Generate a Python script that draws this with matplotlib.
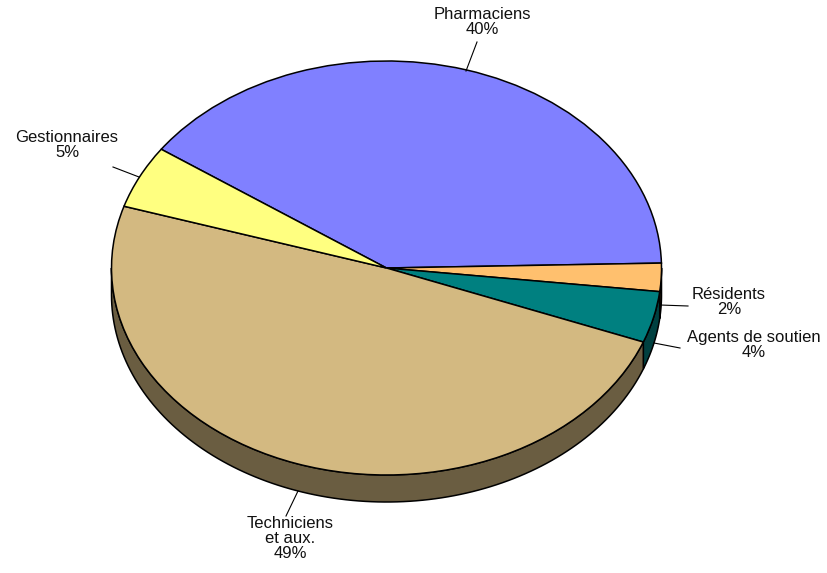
import numpy as np
import matplotlib
matplotlib.use("Agg")
import matplotlib.pyplot as plt

plt.rcParams["font.family"] = ["Liberation Sans", "DejaVu Sans"]

W, H = 828, 573
CX, CY, RX, RY = 386.5, 268, 275, 207
DEPTH = 27

categories = ["Pharmaciens", "Résidents", "Agents de soutien", "Techniciens\net aux.", "Gestionnaires"]
shares = [39.9, 2.2, 4.0, 49.0, 4.9]
pct_labels = ["40%", "2%", "4%", "49%", "5%"]
colors = ["#8080FF", "#FFC06E", "#008080", "#D3B981", "#FFFF80"]
side_colors = ["#404080", "#806037", "#004040", "#6A5D41", "#808040"]
START_ANGLE = 145

# label anchor (centre x, top y) and leader line, in pixels of the reference
label_pos = [(482, 7), (729, 287), (754, 330), (290, 516), (67, 130)]
leaders = [((466, 71), (477, 42)), ((660, 305), (688, 306)), ((654, 343), (680, 348)),
           ((298, 491), (286, 516)), ((139, 177), (113, 167))]


def px(x, y):
    return (x - CX) / RX, (CY - y) / RY


fig = plt.figure(figsize=(W / 100, H / 100), dpi=100)
ax = fig.add_axes([0, 0, 1, 1])

depth = DEPTH / RY
edges = START_ANGLE - np.cumsum([0] + shares) * 3.6

# side wall, only the part of each wedge on the front half
for i in range(len(shares)):
    hi, lo = edges[i], edges[i + 1]
    for shift in (0, 360):
        a = min(hi + shift, 360)
        b = max(lo + shift, 180)
        if a <= b:
            continue
        t = np.radians(np.linspace(a, b, 120))
        xs = np.r_[np.cos(t), np.cos(t[::-1])]
        ys = np.r_[np.sin(t), np.sin(t[::-1]) - depth]
        ax.fill(xs, ys, facecolor=side_colors[i], edgecolor="black", linewidth=1.1, zorder=1)

ax.pie(shares, colors=colors, startangle=START_ANGLE, counterclock=False, radius=1,
       wedgeprops={"edgecolor": "black", "linewidth": 1.1, "zorder": 2})
ax.set_aspect("auto")
ax.set_xlim(-CX / RX, (W - CX) / RX)
ax.set_ylim((CY - H) / RY, CY / RY)
ax.axis("off")

for cat, pct, (lx, ly), (p0, p1) in zip(categories, pct_labels, label_pos, leaders):
    x, y = px(lx, ly)
    ax.text(x, y, f"{cat}\n{pct}", ha="center", va="top", fontsize=12, linespacing=1.0,
            color="#111111", zorder=4)
    (x0, y0), (x1, y1) = px(*p0), px(*p1)
    ax.plot([x0, x1], [y0, y1], color="black", linewidth=0.8, zorder=3)

fig.savefig("out.png", dpi=100, facecolor="white")
plt.close(fig)
